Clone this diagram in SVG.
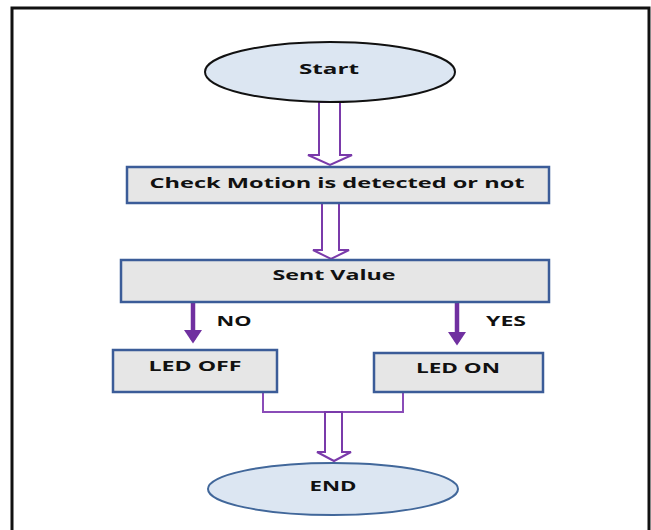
<svg xmlns="http://www.w3.org/2000/svg" width="651" height="530" viewBox="0 0 651 530">
<style>
.t{font-family:"Open Sans","Liberation Sans",sans-serif;font-weight:bold;fill:#111;text-anchor:middle}
.box{fill:#e6e6e6;stroke:#3b5c98;stroke-width:2.5}
.hol{fill:#fff;stroke:#7a3aaa;stroke-width:2}
.thin{fill:none;stroke:#8a4cb8;stroke-width:2}
.thick{stroke:#7030a0;stroke-width:4.5;fill:none}
</style>
<defs>
<marker id="ah" markerWidth="4" markerHeight="4" refX="2.2" refY="2" orient="auto" markerUnits="strokeWidth">
<path d="M0,0 L3,2 L0,4 Z" fill="#7030a0"/>
</marker>
</defs>
<rect x="0" y="0" width="651" height="530" fill="#fff"/>
<rect x="12" y="8" width="637" height="540" fill="none" stroke="#111" stroke-width="3"/>

<g id="connectors">
<polygon class="hol" points="319,102 340,102 340,155 352,155 330,165 308,155 319,155"/>
<polygon class="hol" points="322,203 339,203 339,250 349,250 331,259 313,250 322,250"/>
<line class="thick" x1="193" y1="302" x2="193" y2="340" marker-end="url(#ah)"/>
<line class="thick" x1="457" y1="302" x2="457" y2="342" marker-end="url(#ah)"/>
<polyline class="thin" points="200,392 263,392 263,412 403,412 403,391 472,391"/>
<polygon class="hol" points="325,412 342,412 342,452 351,452 334,461 317,452 325,452"/>
</g>

<g id="start">
<ellipse cx="330" cy="72" rx="125" ry="30" fill="#dce6f2" stroke="#111" stroke-width="2"/>
<text class="t" x="329" y="74" font-size="15" textLength="60" lengthAdjust="spacingAndGlyphs">Start</text>
</g>

<g id="check">
<rect class="box" x="127" y="167" width="422" height="36"/>
<text class="t" x="337" y="188" font-size="15" textLength="375" lengthAdjust="spacingAndGlyphs">Check Motion is detected or not</text>
</g>

<g id="sent">
<rect class="box" x="121" y="260" width="428" height="42"/>
<text class="t" x="334" y="280" font-size="15" textLength="123" lengthAdjust="spacingAndGlyphs">Sent Value</text>
</g>

<g id="no-label">
<text class="t" x="234" y="326" font-size="14" textLength="35" lengthAdjust="spacingAndGlyphs">NO</text>
</g>
<g id="yes-label">
<text class="t" x="506" y="326" font-size="14" textLength="40" lengthAdjust="spacingAndGlyphs">YES</text>
</g>

<g id="ledoff">
<rect class="box" x="113" y="350" width="164" height="42"/>
<text class="t" x="195" y="371" font-size="14" textLength="93" lengthAdjust="spacingAndGlyphs">LED OFF</text>
</g>

<g id="ledon">
<rect class="box" x="374" y="353" width="169" height="39"/>
<text class="t" x="458" y="373" font-size="14" textLength="84" lengthAdjust="spacingAndGlyphs">LED ON</text>
</g>

<g id="end">
<ellipse cx="333" cy="489" rx="125" ry="26" fill="#dce6f2" stroke="#41679a" stroke-width="2"/>
<text class="t" x="333" y="491" font-size="14" textLength="47" lengthAdjust="spacingAndGlyphs">END</text>
</g>
</svg>
